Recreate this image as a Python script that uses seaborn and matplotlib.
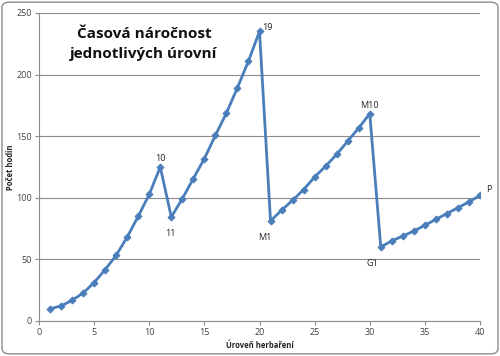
import matplotlib
matplotlib.use("Agg")
import matplotlib.pyplot as plt
import seaborn as sns
import pandas as pd
from matplotlib.patches import FancyBboxPatch

# uroven herbareni (1..40) a pocet hodin
levels = list(range(1, 41))
hours = [10, 12.2, 16.8, 22.7, 31.2, 41.7, 53.3, 68.2, 85, 102.8,
         125, 84.4, 99.3, 115.6, 131.8, 150.7, 168.8, 189.4, 211, 235.1,
         81.2, 89.9, 98, 106.6, 116.9, 125.6, 135.3, 145.9, 156.7, 168.3,
         60.1, 65, 69, 73, 77.7, 82.5, 87.2, 92, 96.6, 102]

# popisky vybranych bodu
label_levels = [11, 12, 20, 21, 30, 31, 40]
label_texts = ["10", "11", "19", "M1", "M10", "G1", "P"]
label_offsets = [(0, 6), (-1, -12), (6, 3), (-4, -12), (0, 6), (-6, -12), (6, 4)]

df = pd.DataFrame({"uroven": levels, "hodiny": hours})

sns.set_theme(style="white")
plt.rcParams["font.family"] = ["Open Sans", "DejaVu Sans"]

fig = plt.figure(figsize=(5, 3.56), dpi=100)
ax = fig.add_axes([39 / 500, 1 - 321 / 356, 441 / 500, 308 / 356])

blue = "#4a7ebb"
sns.lineplot(data=df, x="uroven", y="hodiny", ax=ax, color=blue, linewidth=2,
             marker="D", markersize=3.5, markeredgecolor=blue)

for lv, txt, off in zip(label_levels, label_texts, label_offsets):
    ax.annotate(txt, (lv, hours[lv - 1]), xytext=off, textcoords="offset points",
                ha="center", va="center", fontsize=6.5, color="#222222")

ax.set_xlim(0, 40)
ax.set_ylim(0, 250)
ax.set_xticks(range(0, 41, 5))
ax.set_yticks(range(0, 251, 50))
ax.yaxis.grid(True, color="#8c8c8c", linewidth=0.8)
ax.xaxis.grid(False)
for s in ["top", "right"]:
    ax.spines[s].set_visible(False)
for s in ["left", "bottom"]:
    ax.spines[s].set_color("#8c8c8c")
    ax.spines[s].set_linewidth(0.8)
ax.tick_params(axis="both", labelsize=6.5, colors="#8c8c8c", labelcolor="#444444",
               length=3, width=0.8, direction="out", left=True, bottom=True, pad=2)

ax.set_xlabel("Úroveň herbaření", fontsize=5.5, fontweight="bold", color="#222222", labelpad=3)
ax.set_ylabel("Počet hodin", fontsize=5.5, fontweight="bold", color="#222222", labelpad=1)

ax.text(0.238, 0.9, "Časová náročnost\njednotlivých úrovní", transform=ax.transAxes,
        ha="center", va="center", fontsize=11, fontweight="bold", color="#111111",
        linespacing=1.5)

border = FancyBboxPatch((0.004, 0.006), 0.992, 0.988, boxstyle="round,pad=0,rounding_size=0.015",
                        transform=fig.transFigure, fill=False, edgecolor="#8c8c8c", linewidth=1)
fig.patches.append(border)

fig.savefig("out.png", dpi=100)
